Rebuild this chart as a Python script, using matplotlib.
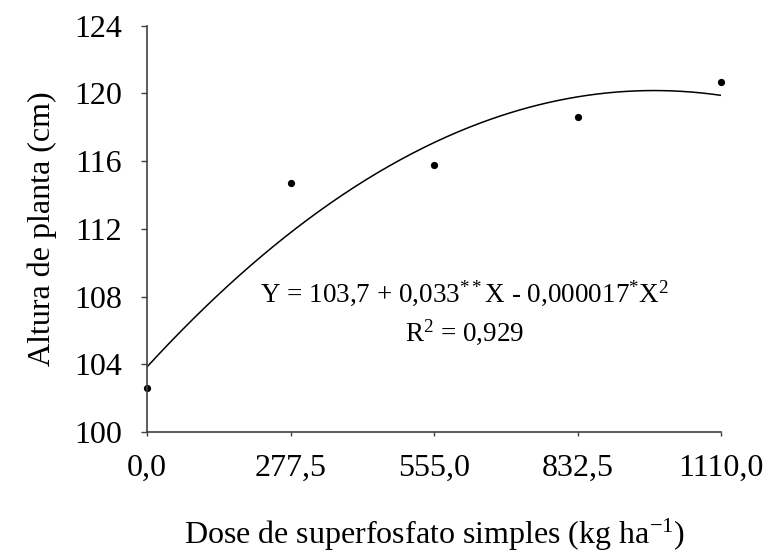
import numpy as np
import matplotlib
matplotlib.use('Agg')
import matplotlib.pyplot as plt

# Dados
dose = [0.0, 277.5, 555.0, 832.5, 1110.0]
altura = [102.6, 114.7, 115.8, 118.6, 120.7]
xticks = [0.0, 277.5, 555.0, 832.5, 1110.0]
xticklabels = ['0,0', '277,5', '555,0', '832,5', '1110,0']
yticks = [100, 104, 108, 112, 116, 120, 124]

plt.rcParams['font.family'] = ['Liberation Serif', 'DejaVu Serif']
plt.rcParams['mathtext.fontset'] = 'custom'
plt.rcParams['mathtext.rm'] = 'Liberation Serif'
plt.rcParams['mathtext.it'] = 'Liberation Serif:italic'

fig = plt.figure(figsize=(7.69, 5.54), dpi=100)
ax = fig.add_axes([0.1912, 0.2202, 0.7464, 0.7334])

# curva de regressao quadratica ajustada aos pontos
coef = np.polyfit(dose, altura, 2)
xs = np.linspace(0, 1110, 300)
ax.plot(xs, np.polyval(coef, xs), color='black', lw=1.1)
ax.plot(dose, altura, 'o', color='black', ms=4.2, clip_on=False)

ax.set_xlim(0, 1110)
ax.set_ylim(100, 124)
ax.set_xticks(xticks)
ax.set_xticklabels(xticklabels)
ax.set_yticks(yticks)

for s in ['top', 'right']:
    ax.spines[s].set_visible(False)
for s in ['left', 'bottom']:
    ax.spines[s].set_color('#404040')
    ax.spines[s].set_linewidth(1.2)

ax.tick_params(axis='y', direction='out', length=4, width=1, pad=14,
               labelsize=23, color='#404040')
ax.tick_params(axis='x', direction='out', length=3, width=1, pad=13,
               labelsize=23, color='#404040')

ax.set_ylabel('Altura de planta (cm)', fontsize=23, labelpad=12)
ax.set_xlabel(r'Dose de superfosfato simples (kg ha$^{-1}$)', fontsize=23, labelpad=24)

ax.text(615, 108.2, r'Y = 103,7 + 0,033$^{**}$X - 0,000017$^{*}$X$^{2}$',
        fontsize=19.5, ha='center', va='center')
ax.text(615, 105.9, r'R$^{2}$ = 0,929', fontsize=19.5, ha='center', va='center')

fig.savefig('out.png', dpi=100)
